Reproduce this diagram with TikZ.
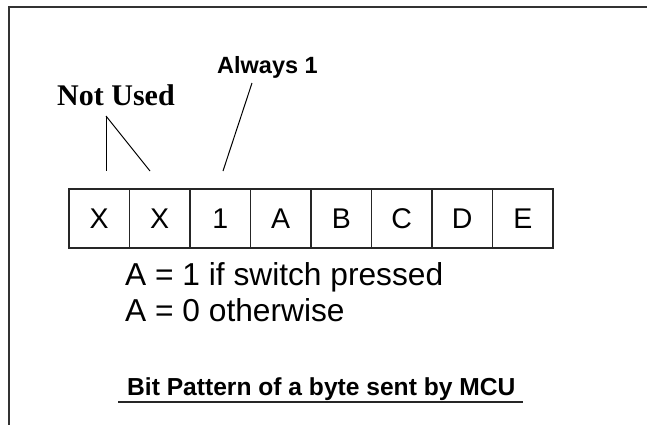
\documentclass[tikz,border=0pt]{standalone}
\usepackage{fontspec}
\setmainfont{Liberation Sans}
\newfontfamily\notusedfont{Liberation Serif}
\usetikzlibrary{calc}

\tikzset{
    bitcell/.style={draw, line width=1.3pt, black!85, text=black, minimum width=60.5pt, minimum height=59pt,
        inner sep=0pt, font=\fontsize{28.5}{30}\selectfont},
    lbl/.style={inner sep=0pt, anchor=base west},
    pointer/.style={line width=1pt},
}

\begin{document}
\begin{tikzpicture}[x=1pt,y=-1pt]
    \useasboundingbox (0,0) rectangle (647,424);

    % frame, cut off at right and bottom
    \draw[line width=2.2pt, black!80] (660,7) -- (9,7) -- (9,440);

    % the byte
    \node[bitcell] (b1) at (99.25,218.5) {X};
    \node[bitcell] (b2) at (159.75,218.5) {X};
    \node[bitcell] (b3) at (220.25,218.5) {1};
    \node[bitcell] (b4) at (280.75,218.5) {A};
    \node[bitcell] (b5) at (341.25,218.5) {B};
    \node[bitcell] (b6) at (401.75,218.5) {C};
    \node[bitcell] (b7) at (462.25,218.5) {D};
    \node[bitcell] (b8) at (522.75,218.5) {E};

    % labels above
    \node[lbl, font=\notusedfont\bfseries\fontsize{30}{32}\selectfont] (notused) at (57,105) {Not Used};
    \node[lbl, font=\bfseries\fontsize{23.5}{25}\selectfont] (always) at (217,73) {Always 1};

    \coordinate (nutip) at (106,116);
    \coordinate (nuend1) at (106,171);
    \coordinate (nuend2) at (150,171);
    \coordinate (altip) at (252,83);
    \coordinate (alend) at (223,171);

    \draw[pointer] (nutip) -- (nuend1);
    \draw[pointer] (nutip) -- (nuend2);
    \draw[pointer] (altip) -- (alend);

    % notes below
    \node[lbl, font=\fontsize{31.7}{33}\selectfont] (note1) at (125,285) {A = 1 if switch pressed};
    \node[lbl, font=\fontsize{31.7}{33}\selectfont] (note2) at (125,321) {A = 0 otherwise};

    \node[lbl, font=\bfseries\fontsize{24.6}{26}\selectfont] (caption) at (127,395) {Bit Pattern of a byte sent by MCU};
    \draw[line width=1.8pt, black!85] ($(caption.base west)+(-9,7)$) -- ($(caption.base east)+(7,7)$);

\end{tikzpicture}
\end{document}
